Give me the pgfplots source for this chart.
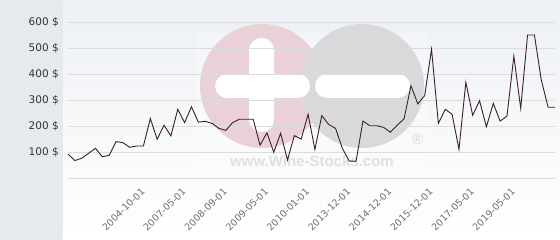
\documentclass[border=0pt]{standalone}
\usepackage{fontspec}
\setmainfont{DejaVu Sans}
\newfontfamily\wmfont{Liberation Sans}
\usepackage{pgfplots}
\pgfplotsset{compat=1.18}
\definecolor{panel}{HTML}{E6EAEE}
\definecolor{bgtop}{HTML}{EDF0F4}
\definecolor{gridc}{HTML}{DCDCDC}
\definecolor{linec}{HTML}{3C1E2D}
\definecolor{wmpink}{HTML}{EAD0D7}
\definecolor{wmgrey}{HTML}{D9D9DB}
\definecolor{wmtext}{HTML}{E0E0E2}
\definecolor{ylab}{HTML}{333333}
\definecolor{xlab}{HTML}{707070}
\begin{document}
\begin{tikzpicture}[x=1pt,y=1pt]
\fill[panel] (0,0) rectangle (63,240);
\shade[top color=bgtop, bottom color=white] (63,0) rectangle (560,240);
% watermark
\fill[white,opacity=0.25] (196,67) rectangle (427,207);
\fill[wmpink] (262,154) circle (62);
\fill[wmgrey] (362,154) circle (62);
\fill[white, rounded corners=12pt] (249,108) rectangle (274,202);
\fill[white, rounded corners=12pt] (215,142) rectangle (310,166);
\fill[white, rounded corners=12pt] (315,142) rectangle (410,166);
\node[font=\wmfont\bfseries\fontsize{15}{15}\selectfont, text=wmtext, inner sep=0pt] at (312,79) {www.Wine-Stocks.com};
\node[font=\wmfont\fontsize{15}{15}\selectfont, text=wmgrey, inner sep=0pt] at (418,101) {®};
\begin{axis}[
  at={(68pt,62pt)}, anchor=south west,
  scale only axis, width=487pt, height=156pt,
  xmin=0, xmax=71, ymin=0, ymax=600,
  axis line style={draw=none},
  major tick length=0pt,
  ymajorgrids, grid style={gridc, line width=0.9pt},
  ytick={0,100,200,300,400,500,600},
  yticklabels={,100 \$,200 \$,300 \$,400 \$,500 \$,600 \$},
  yticklabel style={anchor=east, inner sep=0pt, xshift=-9pt, text=ylab, font=\fontsize{10.5}{12}\selectfont},
  xtick={9,15,21,27,33,39,45,51,57,63},
  xticklabels={2004-10-01,2007-05-01,2008-09-01,2009-05-01,2010-01-01,2013-12-01,2014-12-01,2015-12-01,2017-05-01,2019-05-01},
  xticklabel style={rotate=45, anchor=north east, inner sep=0pt, yshift=-14pt, xshift=1pt, text=xlab, font=\fontsize{9.5}{11}\selectfont},
  clip=false,
]
\addplot[linec, line width=0.9pt, mark=none] coordinates {
(0,92)(1,67)(2,76)(3,95)(4,114)(5,82)(6,87)(7,140)(8,136)(9,118)
(10,123)(11,123)(12,229)(13,149)(14,203)(15,162)(16,264)(17,213)(18,274)(19,215)
(20,218)(21,210)(22,191)(23,183)(24,213)(25,226)(26,226)(27,226)(28,126)(29,174)
(30,99)(31,172)(32,69)(33,163)(34,150)(35,245)(36,110)(37,240)(38,206)(39,191)
(40,114)(41,65)(42,65)(43,219)(44,201)(45,201)(46,195)(47,176)(48,203)(49,228)
(50,355)(51,285)(52,317)(53,495)(54,210)(55,264)(56,245)(57,110)(58,368)(59,241)
(60,297)(61,197)(62,287)(63,219)(64,238)(65,469)(66,268)(67,550)(68,550)(69,377)
(70,272)(71,272)
};
\end{axis}
\pgfresetboundingbox
\path (0,0) rectangle (560,240);
\end{tikzpicture}
\end{document}
